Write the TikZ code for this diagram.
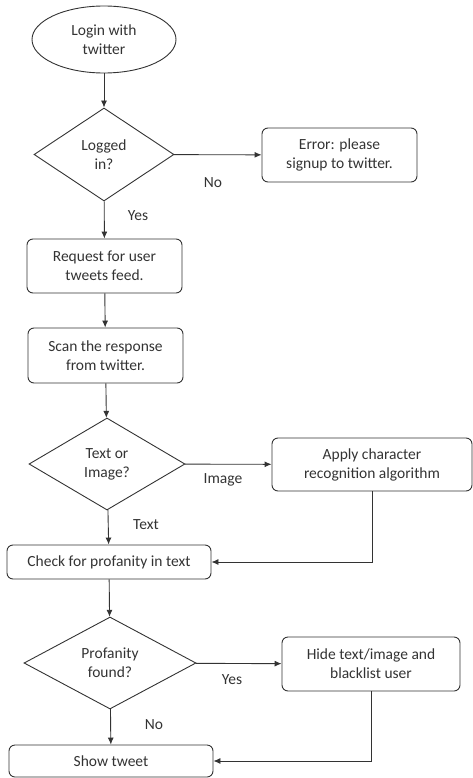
\documentclass[tikz,border=0pt]{standalone}
\usepackage{fontspec}
\setmainfont{Carlito}
\usepackage{tikz}
\usetikzlibrary{shapes, positioning, arrows.meta}

\begin{document}
\begin{tikzpicture}[x=1pt, y=-1pt,
        every node/.style={font=\fontsize{15.5}{19}\selectfont, text=black!80},
        box/.style={rectangle, rounded corners=6pt, draw=black!80, line width=0.9pt, align=center, inner sep=0pt},
        decision/.style={diamond, draw=black!80, line width=0.9pt, align=center, inner sep=0pt},
        flow/.style={draw=black!80, line width=0.9pt, -{Latex[length=7pt, width=6pt]}}]
        \useasboundingbox (0, 0) rectangle (473, 778);

        \node[ellipse, draw=black!80, line width=0.9pt, align=center, minimum width=144pt, minimum height=67pt] (login) at (104, 39.5) {Login with\\twitter};
        \node[decision, minimum width=140pt, minimum height=93pt] (logged) at (104, 154.5) {Logged\\in?};
        \node[box, minimum width=155pt, minimum height=54pt] (error) at (339.5, 155) {Error: please\\signup to twitter.};
        \node[box, minimum width=155pt, minimum height=54pt] (request) at (104.5, 266) {Request for user\\tweets feed.};
        \node[box, minimum width=155pt, minimum height=55pt] (scan) at (105.5, 355.5) {Scan the response\\from twitter.};
        \node[decision, minimum width=156pt, minimum height=92pt] (textimg) at (107, 464) {Text or\\Image?};
        \node[box, minimum width=200pt, minimum height=53pt] (ocr) at (372, 464.5) {Apply character\\recognition algorithm};
        \node[box, minimum width=204pt, minimum height=34pt] (check) at (109, 562) {Check for profanity in text};
        \node[decision, minimum width=172pt, minimum height=92pt] (found) at (110, 663) {Profanity\\found?};
        \node[box, minimum width=178pt, minimum height=54pt] (hide) at (371, 664) {Hide text/image and\\blacklist user};
        \node[box, minimum width=204pt, minimum height=32pt] (show) at (111, 761) {Show tweet};

        % branch labels
        \node (no1) at (213, 183) {No};
        \node (yes1) at (138, 216) {Yes};
        \node (img) at (223, 480) {Image};
        \node (txt) at (146, 525) {Text};
        \node (yes2) at (232, 680) {Yes};
        \node (no2) at (154, 725) {No};

        \draw[flow] (login) -- (logged);
        \draw[flow] (logged) -- (error);
        \draw[flow] (logged) -- (request);
        \draw[flow] (request) -- (scan);
        \draw[flow] (scan) -- (textimg);
        \draw[flow] (textimg) -- (ocr);
        \draw[flow] (textimg) -- (check);
        \draw[flow] (ocr.south) |- (check.east);
        \draw[flow] (check) -- (found);
        \draw[flow] (found) -- (hide);
        \draw[flow] (found) -- (show);
        \draw[flow] (hide.south) |- (show.east);
    \end{tikzpicture}
\end{document}
